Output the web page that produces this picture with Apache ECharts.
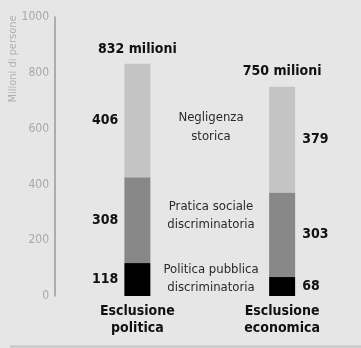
<!DOCTYPE html>
<html><head><meta charset="utf-8">
<script src="https://cdn.jsdelivr.net/npm/echarts@6/dist/echarts.min.js"></script>
<style>html,body{margin:0;padding:0;background:#e6e6e6}#c{width:361px;height:348px}</style>
</head><body><div id="c"></div>
<script>
const categories = ['Esclusione\npolitica', 'Esclusione\neconomica'];
const politicaPubblica = [118, 68];
const praticaSociale = [308, 303];
const negligenza = [406, 379];
const totals = [832, 750];
const yTicks = [0, 200, 400, 600, 800, 1000];
const seriesNames = ['Politica pubblica\ndiscriminatoria', 'Pratica sociale\ndiscriminatoria', 'Negligenza\nstorica'];

const FONT = '"Liberation Sans Narrow", "DejaVu Sans Condensed", "Liberation Sans", sans-serif';
const chart = echarts.init(document.getElementById('c'), null, {renderer: 'canvas'});

function valLabels(arr) {
  return arr.map((v, i) => ({
    value: v,
    label: {
      show: true,
      position: i === 0 ? 'left' : 'right',
      distance: i === 0 ? 6 : 7,
      fontFamily: FONT, fontWeight: 'bold', fontSize: 14, color: '#111',
      formatter: '{c}'
    }
  }));
}

const colors = ['#000000', '#888888', '#c4c4c4'];
const dataSets = [politicaPubblica, praticaSociale, negligenza];

const series = dataSets.map((d, k) => ({
  name: seriesNames[k], type: 'bar', stack: 'tot', barWidth: 26,
  itemStyle: {color: colors[k]},
  data: valLabels(d), silent: true
}));
series.push({
  name: 'tot', type: 'bar', stack: 'tot', barWidth: 26,
  data: totals.map(() => 0),
  label: {
    show: true, position: 'top', distance: 8,
    fontFamily: FONT, fontWeight: 'bold', fontSize: 14, color: '#111',
    formatter: p => totals[p.dataIndex] + ' milioni'
  }
});

chart.setOption({
  backgroundColor: '#e6e6e6',
  animation: false,
  grid: {left: 65, right: 6.5, top: 17, bottom: 52},
  xAxis: {
    type: 'category', data: categories,
    axisLine: {show: false}, axisTick: {show: false},
    axisLabel: {margin: 7, fontFamily: FONT, fontWeight: 'bold', fontSize: 14, lineHeight: 17, color: '#111'}
  },
  yAxis: {
    type: 'value', min: yTicks[0], max: yTicks[yTicks.length - 1], interval: 200, offset: 10,
    axisLine: {show: true, lineStyle: {color: '#9a9a9a', width: 1.5}},
    axisTick: {show: false}, splitLine: {show: false},
    axisLabel: {margin: 6, fontFamily: FONT, fontSize: 12, color: '#a8a8a8', formatter: v => String(v)}
  },
  series: series,
  graphic: [
    {type: 'text', x: 13, y: 59, rotation: Math.PI / 2,
     style: {text: 'Milioni di persone', fontFamily: FONT, fontSize: 11, fill: '#b0b0b0', align: 'center', verticalAlign: 'middle'}},
    {type: 'text', x: 211, y: 127,
     style: {text: seriesNames[2], fontFamily: FONT, fontSize: 13, lineHeight: 19, fill: '#2a2a2a', align: 'center', verticalAlign: 'middle'}},
    {type: 'text', x: 211, y: 216,
     style: {text: seriesNames[1], fontFamily: FONT, fontSize: 13, lineHeight: 18, fill: '#2a2a2a', align: 'center', verticalAlign: 'middle'}},
    {type: 'text', x: 211, y: 279,
     style: {text: seriesNames[0], fontFamily: FONT, fontSize: 13, lineHeight: 18, fill: '#2a2a2a', align: 'center', verticalAlign: 'middle'}},
    {type: 'line', shape: {x1: 10, y1: 346.5, x2: 361, y2: 346.5}, style: {stroke: '#c4c4c4', lineWidth: 2}}
  ]
});
</script></body></html>
